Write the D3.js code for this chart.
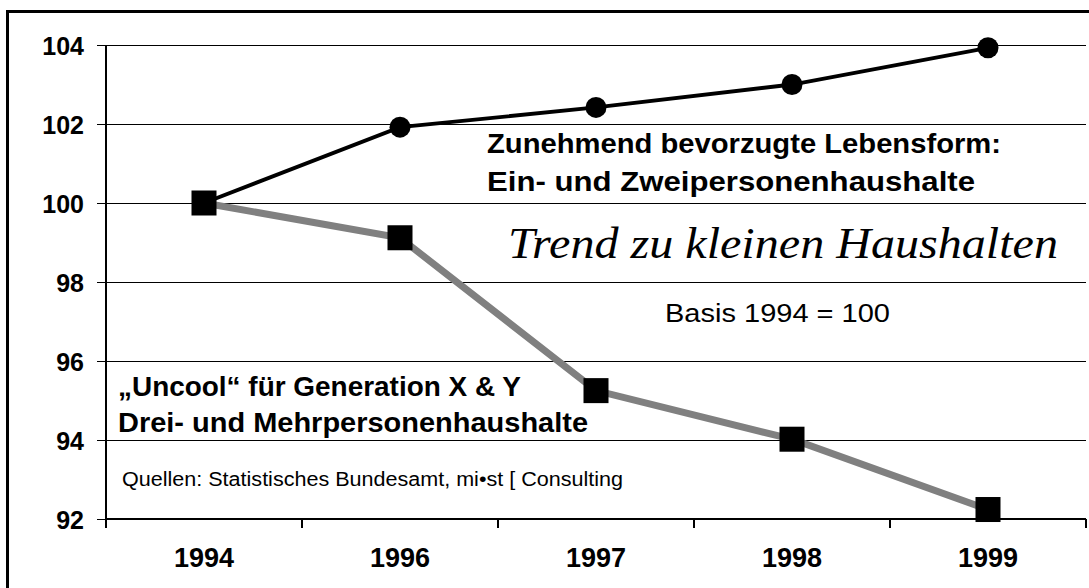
<!DOCTYPE html>
<html>
<head>
<meta charset="utf-8">
<script src="https://cdn.jsdelivr.net/npm/d3@7/dist/d3.min.js"></script>
<style>
  html, body { margin: 0; padding: 0; background: #fff; }
  svg { display: block; }
</style>
</head>
<body>
<svg id="chart" width="1089" height="588"></svg>
<script>
// ---- data ----
const categories = ["1994", "1996", "1997", "1998", "1999"];
const smallHouseholds = [100, 101.92, 102.42, 103.0, 103.93];   // Ein- und Zweipersonenhaushalte
const largeHouseholds = [100, 99.12, 95.25, 94.02, 92.24];      // Drei- und Mehrpersonenhaushalte
const yTicks = [92, 94, 96, 98, 100, 102, 104];

const svg = d3.select("#chart");

// frame
svg.append("rect")
  .attr("x", 7.5).attr("y", 11.5)
  .attr("width", 1200).attr("height", 700)
  .attr("fill", "none").attr("stroke", "#000").attr("stroke-width", 3);

const pLeft = 106, pRight = 1086, pTop = 45, pBottom = 519;
const x = d3.scaleBand().domain(categories).range([pLeft, pRight]).padding(0);
const y = d3.scaleLinear().domain([92, 104]).range([pBottom, pTop]);

// gridlines + y ticks
const yAxis = d3.axisLeft(y).tickValues(yTicks).tickSize(-(pRight - pLeft)).tickSizeOuter(0).tickPadding(13).tickFormat(d3.format("d"));
const gy = svg.append("g").attr("transform", `translate(${pLeft},0)`).call(yAxis);
gy.select(".domain").remove();
gy.selectAll(".tick line").attr("stroke", "#000").attr("stroke-width", 1.2).attr("x1", -9);
gy.selectAll(".tick text")
  .attr("font-family", "Liberation Sans, Arial, sans-serif")
  .attr("font-weight", "bold").attr("font-size", 25).attr("fill", "#000")
  .attr("x", -22).attr("dy", "0.36em");

// x axis
const xAxis = d3.axisBottom(x).tickSize(0).tickPadding(0);
const gx = svg.append("g").attr("transform", `translate(0,${pBottom})`).call(xAxis);
gx.select(".domain").remove();
gx.selectAll(".tick text")
  .attr("font-family", "Liberation Sans, Arial, sans-serif")
  .attr("font-weight", "bold").attr("font-size", 27).attr("fill", "#000")
  .attr("y", 48).attr("dy", 0);

// x axis line and boundary ticks
svg.append("line").attr("x1", pLeft).attr("x2", pRight).attr("y1", pBottom).attr("y2", pBottom)
  .attr("stroke", "#000").attr("stroke-width", 2);
const boundaries = categories.map(c => x(c)).concat([x(categories[categories.length - 1]) + x.bandwidth()]);
svg.append("g").selectAll("line").data(boundaries).join("line")
  .attr("x1", d => d).attr("x2", d => d).attr("y1", pBottom).attr("y2", pBottom + 9)
  .attr("stroke", "#000").attr("stroke-width", 2);

// y axis line
svg.append("line").attr("x1", pLeft).attr("x2", pLeft).attr("y1", pTop).attr("y2", pBottom)
  .attr("stroke", "#000").attr("stroke-width", 2);

const cx = c => x(c) + x.bandwidth() / 2;
const line = d3.line().x((d, i) => cx(categories[i])).y(d => y(d));

// grey line (large households)
svg.append("path").datum(largeHouseholds).attr("d", line)
  .attr("fill", "none").attr("stroke", "#808080").attr("stroke-width", 7);

// black line (small households)
svg.append("path").datum(smallHouseholds).attr("d", line)
  .attr("fill", "none").attr("stroke", "#000").attr("stroke-width", 3.8);

// circles
svg.append("g").selectAll("circle").data(smallHouseholds).join("circle")
  .attr("cx", (d, i) => cx(categories[i])).attr("cy", d => y(d)).attr("r", 10.5)
  .attr("fill", "#000");

// squares
const sq = 25;
svg.append("g").selectAll("rect").data(largeHouseholds).join("rect")
  .attr("x", (d, i) => cx(categories[i]) - sq / 2).attr("y", d => y(d) - sq / 2)
  .attr("width", sq).attr("height", sq).attr("fill", "#000");

// annotations
const sans = "Liberation Sans, Arial, sans-serif";
function label(txt, lx, ly, size, weight, width, family, style) {
  const t = svg.append("text").attr("x", lx).attr("y", ly)
    .attr("font-family", family || sans).attr("font-size", size)
    .attr("font-weight", weight).attr("font-style", style || "normal")
    .attr("fill", "#000").text(txt);
  if (width) t.attr("textLength", width).attr("lengthAdjust", "spacingAndGlyphs");
  return t;
}
label("Zunehmend bevorzugte Lebensform:", 487, 153, 27.5, "bold", 514);
label("Ein- und Zweipersonenhaushalte", 487, 191, 27.5, "bold", 488);
label("Trend zu kleinen Haushalten", 508, 258, 44, "normal", 550, "Liberation Serif, Times New Roman, serif", "italic");
label("Basis 1994 = 100", 665, 322, 25.5, "normal", 225);
label("\u201EUncool\u201C für Generation X & Y", 118, 396, 27.5, "bold", 403);
label("Drei- und Mehrpersonenhaushalte", 118, 432, 27.5, "bold", 470);
label("Quellen: Statistisches Bundesamt, mi\u2022st [ Consulting", 122, 486, 19.5, "normal", 501);
</script>
</body>
</html>
